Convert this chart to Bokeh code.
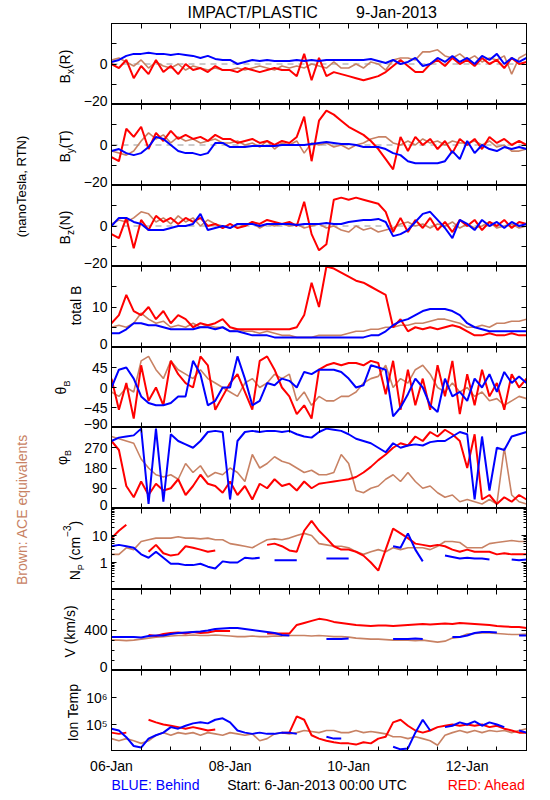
import math
from bokeh.plotting import figure
from bokeh.layouts import column, row
from bokeh.models import Range1d, LinearAxis, LogAxis, FixedTicker, Span, Label
from bokeh.embed import file_html
from bokeh.resources import INLINE

nan = float("nan")

# ---------------- data (3-hourly samples, 6-Jan-2013 00:00 .. 13-Jan-2013 00:00) ----------------
hours = list(range(0, 169, 3))
days = [h / 24 for h in hours]

bx_ace = [2, 3, 1, -1, 2, -2, 1, -1,
          -2, 0, -3, -1, -2, -3, -2, -3,
          -3, -2, -3, -2, -1, -2, -3, -1,
          -2, -1, -2, 0, -1, -2, 1, -2,
          -2, 0, -2, 1, 0, -3, 2, 3,
          3, 2, 6, 6, 7, 4, 3, 5,
          2, 4, 1, 3, 2, 4, -5, 3,
          5]
bx_ahead = [0, -2, 2, -7, -1, -5, 2, -4,
            -1, -5, 0, -3, -2, -4, -1, -3,
            -3, -4, -2, -3, -4, -3, -2, -3,
            -3, -6, 5, -8, 3, -6, -4, -5,
            -6, -7, -8, -7, -6, -4, -1, 2,
            -1, -4, -4, 0, 2, -1, 3, 0,
            2, -1, 3, 0, 2, -2, 3, 0,
            1]
bx_behind = [1, 2, 4, 5, 5, 5.5, 5, 5,
             4.5, 5, 4.5, 4, 3, 4, 2.5, 2,
             2, 0, 1, 2, 1.5, 2, 1.5, 1.5,
             1.5, 2, 1.5, 2, 1.5, 2, 2, 2,
             2, 2, 2, 2.5, 1.5, 0.5, 2, 0,
             1, 3, -1, 0, 3, 1, 4, 1,
             3, 0, 4, 2, 5, 0, 3, 1,
             3]

by_ace = [-3, -4, -5, -3, 2, 6, 3, 5,
          1, 4, 2, 3, 1, 2, 3, 1,
          1, 2, 0, 1, -1, 2, -2, 1,
          0, 2, -4, 1, 0, 1, -1, 0,
          -2, 0, 1, 3, 4, 4, 1, 0,
          2, 0, 3, 1, 2, 0, 2, 1,
          1, 2, 0, 2, -1, 0, -3, -3,
          -2]
by_ahead = [-6, -8, 8, 4, 9, -2, 6, 2,
            7, 3, 5, 3, 4, 2, 5, 3,
            3, 1, 2, 3, 1, 2, 0, 2,
            1, 4, 14, -8, 12, 17, 15, 12,
            9, 7, 5, 2, -2, -7, -12, 4,
            -3, 4, 0, 3, -2, 2, -4, 3,
            0, 3, -2, 4, 1, 3, 0, 2,
            0]
by_behind = [-3, -2, -4, -5, -4, -1, 4, 3,
             0, -3, -4, -4, -5, -4, 1, 1,
             -1, -1, -1, -0.5, -0.5, -0.5, -0.5, 0,
             0, 0, 0, 0.5, 1, 1.5, 1, 0.5,
             0.5, 0, -1, -1, -1, -2, -4, -5,
             -8, -9, -9, -9, -9, -8, -3, -7,
             2, -4, 0, -2, -3, -1, -2, -1,
             -2]

bz_ace = [1, 3, 2, 4, 7, 6, 2, 4,
          1, 5, 2, 4, 0, 3, 1, 0,
          -1, 1, 0, 2, -1, 1, 0, 1,
          0, 1, -1, 0, 1, -1, 0, -2,
          -3, 0, -2, -1, -3, -2, -1, 1,
          2, 0, 1, -1, 1, 0, 2, -1,
          1, -1, 0, 2, -1, 0, 1, -1,
          0]
bz_ahead = [-4, -6, 4, -11, 3, -2, 5, 2,
            4, 1, 4, 2, 4, 0, 1, -1,
            1, -1, 0, 2, 1, 3, 2, 1,
            2, 0, 12, -4, -12, -9, 13, 14,
            13, 14, 13, 12, 11, 7, -3, 4,
            -3, 3, -1, 4, -2, 2, -3, 3,
            0, 3, -2, 2, 0, 3, -1, 2,
            1]
bz_behind = [0, 4, 4, 2, 1, -2, -2, -2,
             -1, 0, 0, 1, 6, -2, -1, 0,
             -1, 1, 1, 1, 0, 1, 1, 1,
             1, 0.5, 1, 1, 1, 1.5, 1, 1,
             2, 2.5, 3, 3, 3.5, 2, -5, -4,
             -2, 2, 6, 7, 3, -1, -6, 3,
             1, -2, 3, 0, 2, -1, 2, 0,
             1]

bt_ace = [5, 5.5, 5, 6, 8.5, 7, 6, 6.5,
          5, 5.5, 5, 6, 5, 5.5, 5, 5,
          4, 4.5, 4, 4, 3.5, 4, 3.5, 3,
          3, 2.5, 2.5, 2.5, 3, 3, 3, 3,
          3.5, 4, 4, 4.5, 4.5, 5, 5, 5.5,
          5.5, 6, 6, 6.5, 7, 7, 6.5, 6,
          5, 5, 5.5, 5, 6, 6, 6.5, 6.5,
          7]
bt_ahead = [6, 8, 13, 9, 8, 10, 7, 9,
            6, 8, 7, 5, 6, 5.5, 6, 7,
            5, 4.5, 4.5, 4.5, 4.5, 4.5, 4.5, 4.5,
            4.5, 5, 8, 16, 10, 20, 19.5, 18.5,
            17.5, 16.5, 16, 15, 14, 13, 5, 7,
            4, 5, 4.5, 5, 4.5, 5, 5.5, 5,
            4, 3, 3, 3.5, 3, 3, 3.5, 3,
            3]
bt_behind = [3.5, 3.5, 4.5, 6, 6, 5.5, 5.5, 5,
             4.5, 4.5, 4.5, 4.5, 5, 5, 4.5, 5,
             4, 4, 3.5, 3, 3, 3, 2.5, 2.5,
             2.5, 2.5, 2.5, 2.5, 2.5, 2.5, 2.5, 2.5,
             2.5, 2.5, 2.5, 3, 3, 4, 5.5, 6.5,
             7, 8, 9, 9.5, 9.5, 9.5, 9, 8,
             6, 5, 4.5, 4, 4, 4, 4, 4,
             4]

theta_ace = [-10, -20, 0, -10, 60, 70, 40, 20,
             60, 40, 30, 20, 40, 20, 10, 0,
             -10, -20, 10, 20, 0, 10, 30, 20,
             30, -30, -10, -40, -20, -30, -30, -20,
             -20, -10, 10, 20, 25, 50, 0, 20,
             10, 40, 50, 30, 0, -10, 10, -10,
             0, -20, -10, -30, -25, -40, -30, -20,
             -25]
theta_ahead = [20, -50, 10, -70, 50, -30, 0, -40,
               60, 30, 10, 0, 70, 50, -50, -20,
               10, 30, -10, -50, 60, 70, 40, 0,
               -20, -60, -40, -70, 40, 50, 55, 50,
               55, 55, 50, 60, 55, -15, 60, -50,
               40, -40, 20, -50, 50, -20, 60, -60,
               30, -40, 40, -20, 10, -50, 30, 0,
               20]
theta_behind = [0, 40, 45, 20, -20, -35, -40, -40,
                -35, -20, -20, 60, 30, -40, -30, 0,
                0, 70, 20, -40, -30, 10, 5, 20,
                15, 0, 35, 30, 40, 40, 40, 35,
                20, 0, 5, 50, 45, 40, -65, -45,
                -15, 20, 0, -40, -55, 20, -20, -10,
                -30, 20, 0, 30, -10, 35, 10, 25,
                10]

phi_ace = [320, 310, 300, 290, 220, 180, 150, 140,
           150, 130, 200, 160, 190, 140, 160, 150,
           180, 160, 120, 240, 180, 200, 230, 210,
           200, 180, 160, 170, 150, 150, 160, 240,
           200, 80, 70, 90, 100, 130, 150, 120,
           160, 120, 90, 100, 70, 50, 60, 30,
           40, 30, 20, 40, 20, 270, 60, 30,
           20]
phi_ahead = [300, 260, 100, 50, 120, 60, 110, 80,
             90, 130, 60, 100, 150, 110, 100, 70,
             120, 60, 100, 40, 110, 90, 130, 100,
             110, 80, 120, 90, 110, 115, 120, 125,
             130, 140, 160, 185, 215, 240, 270, 290,
             280, 320, 300, 340, 320, 350, 330, 300,
             180, 330, 40, 60, 20, 50, 30, 60,
             40]
phi_behind = [300, 315, 320, 325, 355, 20, 355, 30,
              330, 300, 285, 270, 300, 340, 345, 340,
              40, 300, 340, 345, 340, 345, 345, 340,
              345, 330, 320, 315, 340, 355, 350, 345,
              330, 310, 300, 290, 270, 250, 290, 270,
              280, 285, 280, 295, 300, 300, 320, 340,
              330, 40, 320, 80, 270, 260, 320, 330,
              340]

np_ace = [2, 2, 3.5, 3, 6, 7, 8, 8,
          8, 9, 8, 8, 7.5, 8, 7, 7,
          5, 4.5, 4, 3.5, 5, 7, 7.5, 7,
          8, 10, 12, 10, 5, 4.5, 4, 4,
          3.5, 2.5, 2, 2.5, 3, 2.5, 3.5, 3,
          3.5, 3.5, 3.5, 3, 4, 6, 6, 5.5,
          3.5, 3.5, 3.5, 5, 5.5, 6, 6.5, 6,
          6]
np_ahead = [8, 15, 25, nan, nan, 2.5, 4.5, 2.2,
            1.8, 2, 4, 3.5, 3, 2.5, 2.8, nan,
            nan, nan, nan, nan, nan, 4.5, 5, 4,
            2.8, 2.5, 15, 35, 15, 8, 4, 3,
            3, 2.5, 1.8, 1, 0.5, 3, 18, 12,
            8, 5, 4.5, 4, 4.5, 4, 3, 2.5,
            3, 2.5, 2.5, 2.5, 2, 2.2, 2, 2,
            2]
np_behind = [4, 4.5, 4, 3.5, 2, 1.5, 2.5, 1.5,
             0.9, 0.9, 0.8, 0.8, 0.9, 0.7, 0.6, 1.1,
             1.0, 1.0, 1.5, 1.4, 1.5, nan, 1.2, 1.2,
             1.2, 1.2, nan, nan, nan, 1.4, 1.4, 1.4,
             1.4, nan, nan, nan, nan, nan, 4, 3.5,
             12, 3, 1.1, nan, nan, 1.8, 1.6, 1.4,
             1.5, 1.4, 1.4, 1.3, nan, nan, 1.3, 1.2,
             1.3]

v_ace = [300, 300, 295, 300, 310, 320, 330, 335,
         340, 345, 345, 350, 345, 345, 350, 345,
         340, 335, 335, 340, 335, 335, 340, 340,
         345, 345, 345, 340, 345, 340, 335, 335,
         330, 320, 315, 310, 310, 305, 300, 300,
         300, 295, 300, 290, 280, 290, 320, 330,
         360, 365, 370, 370, 365, 360, 355, 355,
         360]
v_ahead = [nan, nan, nan, nan, nan, 350, 340, 360,
           370, 375, 365, 380, 370, 375, 390, 390,
           390, nan, nan, nan, nan, 365, 365, 365,
           365, 450, 470, 490, 510, 500, 480, 470,
           460, 450, 445, 440, 445, 445, 440, 445,
           450, 455, 460, 455, 460, 465, 460, 470,
           465, 460, 455, 450, 440, 435, 430, 430,
           420]
v_behind = [330, 330, 330, 330, 325, 340, 345, 345,
            360, 370, 375, 380, 385, 395, 410, 415,
            420, 420, 410, 400, 390, 380, 370, 350,
            345, nan, nan, nan, nan, 310, 310, 310,
            315, nan, nan, nan, nan, nan, 310, 310,
            310, 315, 310, nan, nan, nan, 330, 330,
            345, 370, 380, 380, 375, nan, nan, 345,
            345]

temp_ace = [3e4, 2.5e4, 3e4, 2.5e4, 2e4, 2.5e4, 4e4, 5e4,
            4e4, 5e4, 4.5e4, 5e4, 4e4, 5e4, 4.5e4, 4e4,
            5e4, 4.5e4, 4e4, 4.5e4, 2.5e4, 3e4, 4.5e4, 5e4,
            4.5e4, 5e4, 6e4, 5.5e4, 5e4, 6e4, 6e4, 5e4,
            5e4, 6e4, 5e4, 5.5e4, 5e4, 4.5e4, 3.5e4, 3.5e4,
            3e4, 3.5e4, 3e4, 2.5e4, 1.7e4, 4e4, 5e4, 6e4,
            5e4, 6e4, 5e4, 6e4, 5.5e4, 6e4, 5e4, 6e4,
            7e4]
temp_ahead = [5e4, 4.5e4, 5e4, nan, nan, 1.5e5, 1.2e5, 1e5,
              9e4, 8e4, 7e4, 8e4, 7e4, 6e4, 6.5e4, nan,
              nan, nan, nan, nan, nan, nan, nan, 5e4,
              5e4, 2e5, 1.5e5, 4e4, 3e4, 2.5e4, 2.2e4, 2e4,
              2e4, 1.8e4, 2.2e4, 2e4, 3e4, 3.5e4, 1.2e5, 1.5e5,
              9e4, 6e4, 5e4, 6e4, 8e4, 9e4, 1e5, 9e4,
              1e5, 9e4, 1e5, 8e4, 9e4, 7e4, 6e4, 5e4,
              5e4]
temp_behind = [7e4, 6e4, 3.4e4, 1.6e4, 1.4e4, 3e4, 4e4, 5e4,
               8e4, 7e4, 9e4, 1.1e5, 1.2e5, 1.1e5, 1.5e5, 1.7e5,
               1.2e5, 6e4, 5e4, 4.5e4, 5e4, 4.5e4, 4.5e4, 5e4,
               5e4, 4.5e4, nan, nan, nan, 3.5e4, 3e4, 3e4,
               nan, nan, nan, nan, nan, nan, 1.5e4, 1.2e4,
               1.3e4, 5e4, 1.5e5, 6e4, nan, 8e4, 9e4, 1.2e5,
               1e5, 1.3e5, 9e4, 1.2e5, 1e5, 8e4, nan, 6e4,
               5e4]

x_tick_days = [0, 0.5, 1, 1.5, 2, 2.5, 3, 3.5, 4, 4.5, 5, 5.5, 6, 6.5, 7]
x_tick_labels = {0: "06-Jan", 2: "08-Jan", 4: "10-Jan", 6: "12-Jan"}

# ---------------- layout / styling ----------------
FONT = "Liberation Sans"
RED = "#ff0000"
BLUE = "#0000ff"
BROWN = "#c88264"

LEFT_W = 111         # everything left of the plot frames (notes, y labels, tick labels)
FRAME_W = 415
RIGHT_B = 8
TITLE_H = 23
FOOT_H = 46
PXD = FRAME_W / 7.0
FULL_W = LEFT_W + FRAME_W + RIGHT_B

CW = {'B': 667, 'x': 500, '(': 333, ')': 333, 'R': 722, 'y': 500, 'T': 611, 'z': 500,
      'N': 722, 't': 278, 'o': 556, 'a': 556, 'l': 222, ' ': 278, 'θ': 556, 'φ': 650,
      'P': 667, 'c': 500, 'm': 833, '−': 584, '3': 556, 'V': 667, 'k': 500, '/': 278,
      's': 500, 'I': 278, 'n': 556, 'e': 556, 'p': 556}


def tw(s, size):
    return sum(CW.get(c, 556) for c in s) * size / 1000.0


minor_np = [m * 10.0 ** e for e in (-1, 0, 1) for m in range(2, 10)]

panels = [
    dict(rng=(-20, 20), log=False, ticks=[-20, -10, 0, 10, 20], labels={-20: "−20", 0: "0"}, minor=[],
         series=(bx_ace, bx_ahead, bx_behind), zero=True,
         ylabel=[("B", 14, 0), ("x", 10, 4), ("(R)", 14, 0)], xb=69, yc=66),
    dict(rng=(-20, 20), log=False, ticks=[-20, -10, 0, 10, 20], labels={-20: "−20", 0: "0"}, minor=[],
         series=(by_ace, by_ahead, by_behind), zero=True,
         ylabel=[("B", 14, 0), ("y", 10, 4), ("(T)", 14, 0)], xb=69, yc=146),
    dict(rng=(-20, 20), log=False, ticks=[-20, -10, 0, 10, 20], labels={-20: "−20", 0: "0"}, minor=[],
         series=(bz_ace, bz_ahead, bz_behind), zero=True,
         ylabel=[("B", 14, 0), ("z", 10, 4), ("(N)", 14, 0)], xb=69, yc=227),
    dict(rng=(0, 20), log=False, ticks=[0, 5, 10, 15, 20], labels={0: "0", 10: "10"}, minor=[],
         series=(bt_ace, bt_ahead, bt_behind), zero=False,
         ylabel=[("total B", 14, 0)], xb=80, yc=305),
    dict(rng=(-90, 90), log=False, ticks=[-90, -45, 0, 45, 90],
         labels={-90: "−90", -45: "−45", 0: "0", 45: "45"}, minor=[],
         series=(theta_ace, theta_ahead, theta_behind), zero=False,
         ylabel=[("θ", 14, 0), ("B", 9, 5)], xb=65, yc=387),
    dict(rng=(0, 360), log=False, ticks=[0, 90, 180, 270, 360],
         labels={0: "0", 90: "90", 180: "180", 270: "270"}, minor=[],
         series=(phi_ace, phi_ahead, phi_behind), zero=False,
         ylabel=[("φ", 14, 0), ("B", 9, 5)], xb=66, yc=457),
    dict(rng=(0.1, 100), log=True, ticks=[0.1, 1, 10, 100], labels={1: "1", 10: "10"}, minor=minor_np,
         series=(np_ace, np_ahead, np_behind), zero=False,
         ylabel=[("N", 14, 0), ("P", 9, 5), (None, 4, 0), ("(cm", 14, 0), ("−3", 10, -9), (")", 14, 0)],
         xb=79, yc=550),
    dict(rng=(0, 800), log=False, ticks=[0, 400, 800], labels={0: "0", 400: "400"},
         minor=[100, 200, 300, 500, 600, 700],
         series=(v_ace, v_ahead, v_behind), zero=False,
         ylabel=[("V (km/s)", 14, 0)], xb=74, yc=631),
    dict(rng=(10000, 10000000), log=True, ticks=[10000, 100000, 1000000, 10000000],
         labels={100000: "10⁵", 1000000: "10⁶"}, minor=[],
         series=(temp_ace, temp_ahead, temp_behind), zero=False,
         ylabel=[("Ion Temp", 14, 0)], xb=77, yc=712),
]
heights = [81, 81, 81, 81, 80, 81, 81, 81, 81]
MID_H = sum(heights)
MID_BOTTOM = TITLE_H + MID_H          # page y of the last frame's bottom edge


def blank_fig(w, h, xr, yr):
    f = figure(width=w, height=h, x_range=Range1d(*xr), y_range=Range1d(*yr), title=None,
               x_axis_location=None, y_axis_location=None, output_backend="svg",
               toolbar_location=None, min_border=0)
    f.xgrid.visible = False
    f.ygrid.visible = False
    f.outline_line_color = None
    f.background_fill_color = "white"
    f.border_fill_color = "white"
    return f


def put_text(f, x, y, txt, size, color="black", align="center", baseline="middle", angle=0.0):
    f.add_layout(Label(x=x, y=y, text=txt, angle=angle, text_font=FONT,
                       text_font_size=f"{size}px", text_color=color,
                       text_align=align, text_baseline=baseline))


def tick_axis(cls, ticks, minor):
    return cls(ticker=FixedTicker(ticks=ticks, minor_ticks=minor),
               major_label_overrides={t: "" for t in ticks},
               major_tick_in=5, major_tick_out=0, minor_tick_in=3, minor_tick_out=0,
               axis_line_color="black", axis_line_width=1,
               major_tick_line_color="black", minor_tick_line_color="black",
               major_label_text_font_size="0px", major_label_standoff=0)


# ---- title strip ----
title_fig = blank_fig(FULL_W, TITLE_H, (0, FULL_W), (0, TITLE_H))
put_text(title_fig, 187, TITLE_H - 11.5, "IMPACT/PLASTIC", 16, align="left")
put_text(title_fig, 396, TITLE_H - 11.5, "9-Jan-2013", 16, align="center")

# ---- left strip: notes, rotated y labels and y tick labels (page coordinates) ----
left = blank_fig(LEFT_W, MID_H, (0, LEFT_W), (0, MID_H))


def LY(page_y):
    return MID_BOTTOM - page_y


put_text(left, 21, LY(186), "(nanoTesla, RTN)", 13, angle=math.pi / 2)
put_text(left, 21, LY(509), "Brown: ACE equivalents", 14, color=BROWN, angle=math.pi / 2)

figs = []
top = TITLE_H
for i, spec in enumerate(panels):
    h = heights[i]
    lo, hi = spec["rng"]
    p = figure(frame_width=FRAME_W, frame_height=h,
               x_range=Range1d(0, 7), y_range=Range1d(lo, hi),
               y_axis_type="log" if spec["log"] else "linear",
               x_axis_location=None, y_axis_location=None,
               output_backend="svg", toolbar_location=None,
               min_border_left=0, min_border_right=RIGHT_B,
               min_border_top=0, min_border_bottom=0)
    p.xgrid.visible = False
    p.ygrid.visible = False
    p.outline_line_color = "black"
    p.outline_line_width = 1
    p.background_fill_color = "white"
    p.border_fill_color = "white"

    ycls = LogAxis if spec["log"] else LinearAxis
    p.add_layout(tick_axis(ycls, spec["ticks"], spec["minor"]), "left")
    p.add_layout(tick_axis(ycls, spec["ticks"], spec["minor"]), "right")
    p.add_layout(tick_axis(LinearAxis, x_tick_days, []), "above")
    p.add_layout(tick_axis(LinearAxis, x_tick_days, []), "below")

    if spec["zero"]:
        p.add_layout(Span(location=0, dimension="width", line_color="#969696",
                          line_dash="6 5", line_width=1, level="underlay"))

    ace, ahead, behind = spec["series"]
    p.line(days, ace, line_color=BROWN, line_width=1.6)
    p.line(days, ahead, line_color=RED, line_width=2)
    p.line(days, behind, line_color=BLUE, line_width=2)
    figs.append(p)

    # y tick labels, placed beside the panel's ticks (bottom-edge labels sit just above the edge)
    for t, txt in spec["labels"].items():
        if spec["log"]:
            frac = (math.log10(hi) - math.log10(t)) / (math.log10(hi) - math.log10(lo))
        else:
            frac = (hi - t) / float(hi - lo)
        py = min(top + frac * h, top + h - 4)
        put_text(left, 107, LY(py), txt, 14, align="right")

    # rotated y label (reads bottom-to-top), assembled from parts for sub/superscripts
    parts = spec["ylabel"]
    total = sum(tw(t, s) if t is not None else s for (t, s, dx) in parts)
    start = spec["yc"] + total / 2.0
    cum = 0.0
    for t, s, dx in parts:
        if t is None:
            cum += s
            continue
        w = tw(t, s)
        py = start - (cum + w / 2.0)
        px = spec["xb"] + dx - 0.35 * s
        put_text(left, px, LY(py), t, s, angle=math.pi / 2)
        cum += w
    top += h

# ---- footer: date tick labels and legend line ----
foot = blank_fig(FULL_W, FOOT_H, (0, FULL_W), (0, FOOT_H))


def FYp(page_y):
    return MID_BOTTOM + FOOT_H - page_y


for d, txt in x_tick_labels.items():
    put_text(foot, LEFT_W + d * PXD, FYp(765.5), txt, 14, align="center")
put_text(foot, LEFT_W, FYp(784), "BLUE: Behind", 14, color=BLUE, align="left")
put_text(foot, LEFT_W + FRAME_W / 2.0, FYp(784), "Start:  6-Jan-2013 00:00 UTC", 14, align="center")
put_text(foot, LEFT_W + FRAME_W - 1, FYp(784), "RED: Ahead", 14, color=RED, align="right")

middle = row(left, column(*figs, spacing=0), spacing=0)
layout = column(title_fig, middle, foot, spacing=0)
open("out.html", "w").write(file_html(layout, INLINE))
